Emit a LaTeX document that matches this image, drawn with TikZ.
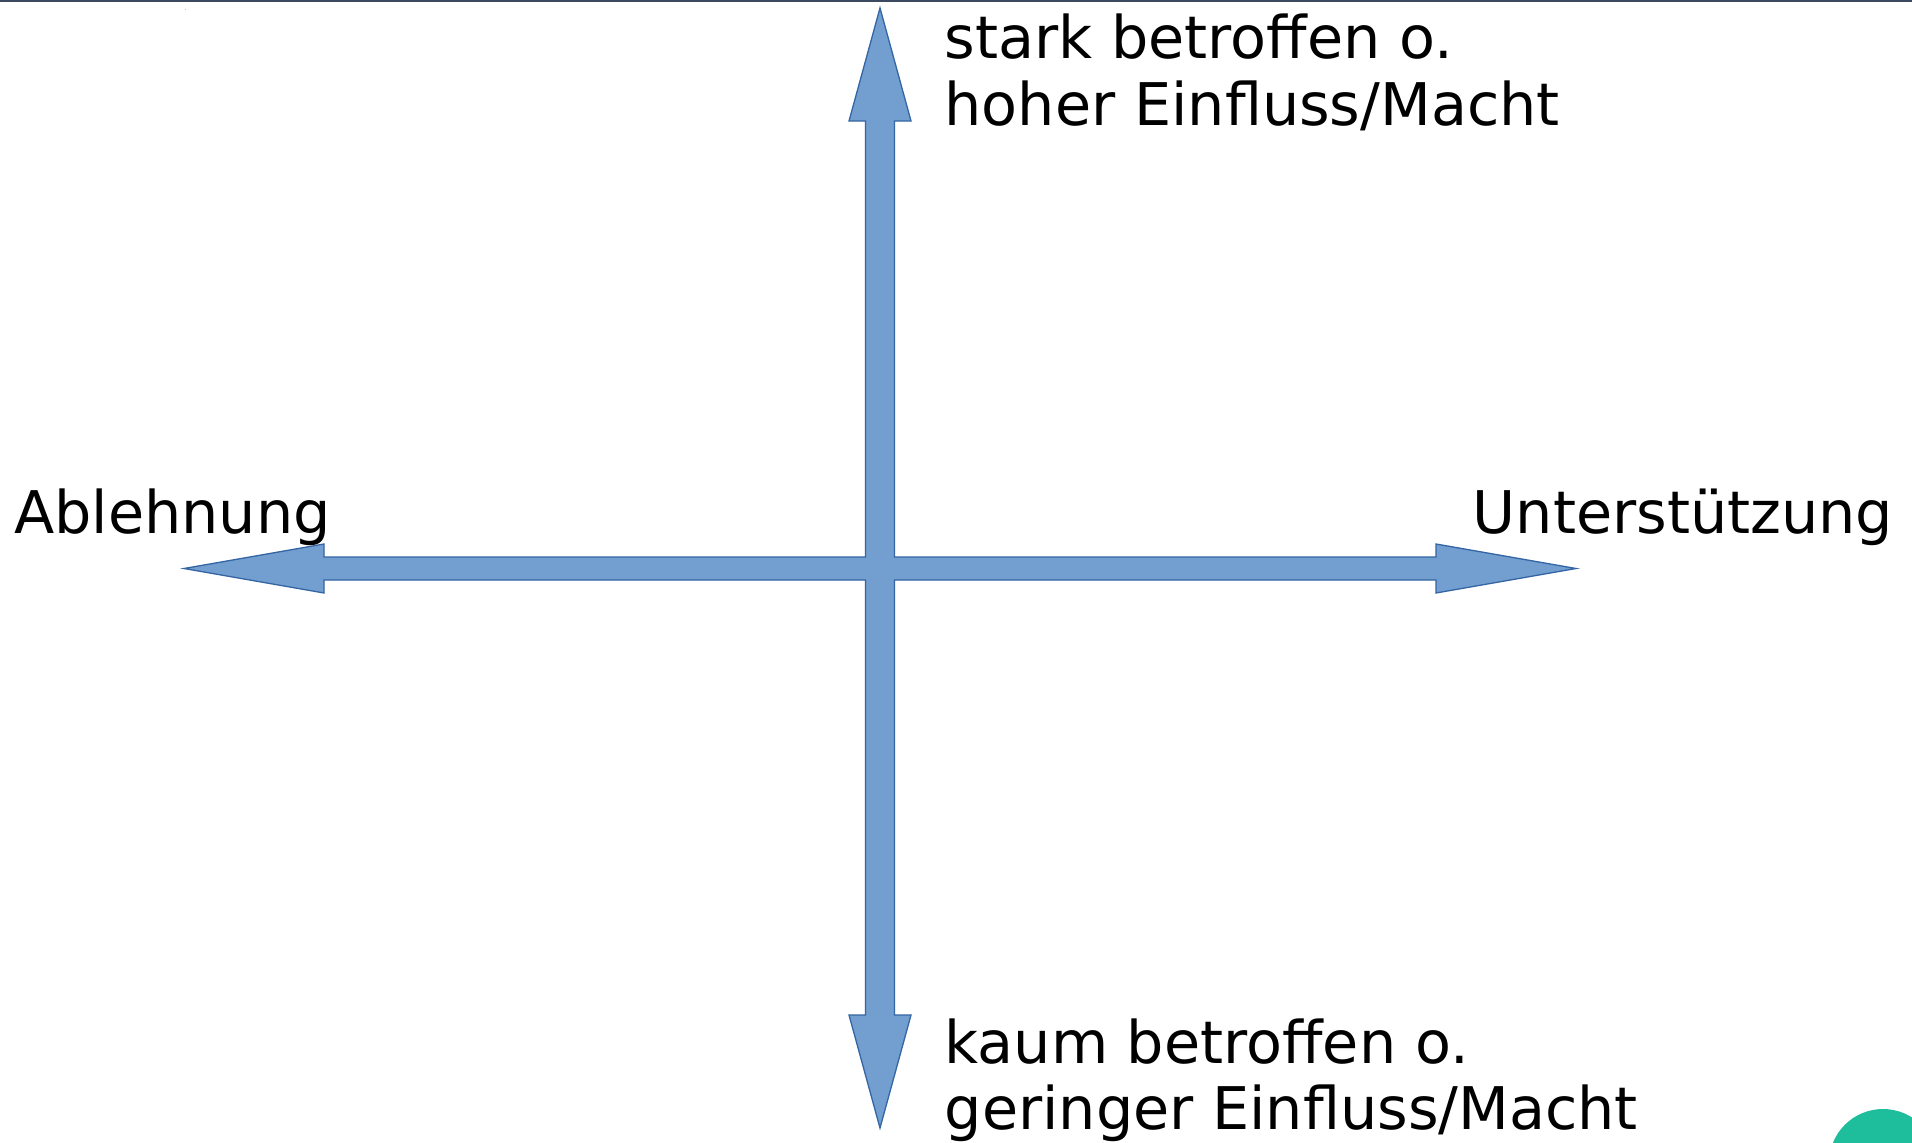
\documentclass[tikz,border=0pt]{standalone}
\usepackage{fontspec}
\setmainfont{DejaVu Sans}
\definecolor{arrowfill}{HTML}{729FCF}
\definecolor{arrowline}{HTML}{3465A4}
\definecolor{topbar}{HTML}{3B4A5F}
\definecolor{dotgreen}{HTML}{1EBD9B}
\definecolor{speck}{HTML}{B8C0D8}
\begin{document}
\begin{tikzpicture}[x=1pt,y=-1pt,
  lbl/.style={anchor=base west,inner sep=0pt,font=\fontsize{58.8}{66}\selectfont,text=black},
  crossarrow/.style={fill=arrowfill,draw=arrowline,line width=1.3pt,line join=miter}]
\useasboundingbox (0,0) rectangle (1912,1143);
\clip (0,0) rectangle (1912,1143);
\fill[white] (0,0) rectangle (1912,1143);
% top bar
\fill[topbar] (0,0) rectangle (1912,1.6);
\fill[speck] (184.5,8.5) rectangle (186,10);
% four-headed cross arrow
\draw[crossarrow]
  (880,8) -- (911,121) -- (894.5,121) -- (894.5,557) -- (1436,557) -- (1436,544)
  -- (1576,568.5) -- (1436,593) -- (1436,580) -- (894.5,580) -- (894.5,1015)
  -- (911,1015) -- (880,1128) -- (849,1015) -- (865.5,1015) -- (865.5,580)
  -- (324,580) -- (324,593) -- (184,568.5) -- (324,544) -- (324,557)
  -- (865.5,557) -- (865.5,121) -- (849,121) -- cycle;
% labels
\node[lbl] (top1) at (944.5,58.5) {stark betroffen o.};
\node[lbl] (top2) at (944.5,125) {hoher Einfluss/Macht};
\node[lbl] (left) at (14,533) {Ablehnung};
\node[lbl] (right) at (1472.5,533) {Unterstützung};
\node[lbl] (bot1) at (944.5,1063) {kaum betroffen o.};
\node[lbl] (bot2) at (944.5,1129) {geringer Einfluss/Macht};
% green circle corner
\fill[dotgreen] (1883,1163) circle (54);
\end{tikzpicture}
\end{document}
